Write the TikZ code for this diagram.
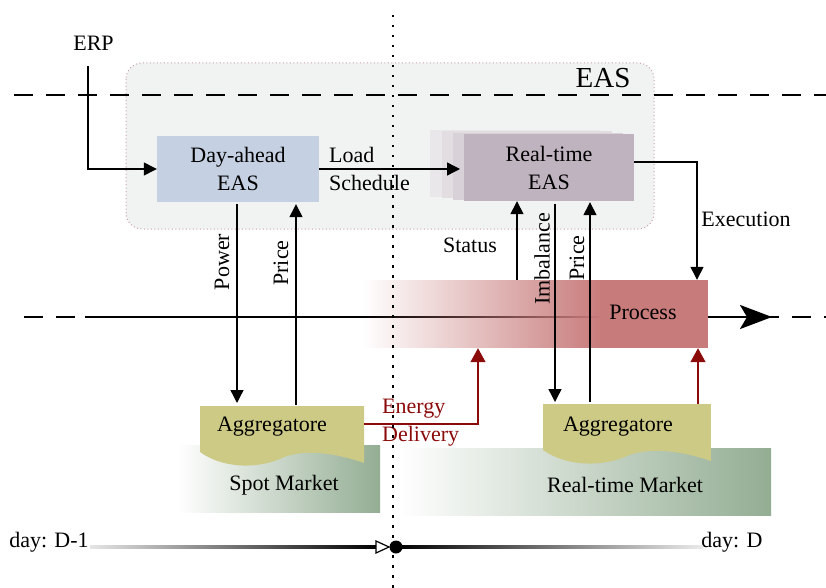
\documentclass[tikz,border=0pt]{standalone}
\usepackage{fontspec}
\setmainfont{Liberation Serif}
\usetikzlibrary{arrows.meta,fadings,calc}
\definecolor{easbg}{HTML}{F1F3F3}
\definecolor{easbd}{HTML}{C8A0AA}
\definecolor{dabox}{HTML}{C5D0E2}
\definecolor{rtbox}{HTML}{BFB3BF}
\definecolor{rtsh1}{HTML}{E9E7E9}
\definecolor{rtsh2}{HTML}{E1DDE1}
\definecolor{rtsh3}{HTML}{D8D1D8}
\definecolor{procred}{HTML}{C87B7B}
\definecolor{aggy}{HTML}{CCCA85}
\definecolor{mktg}{HTML}{93AD93}
\definecolor{dred}{HTML}{8B0A0A}
\newcommand{\aggpath}{(0,0) -- (164,0) -- (164,57) .. controls (130,45) and (100,44) .. (82,52) .. controls (61,62) and (25,64) .. (0,46) -- cycle}
\begin{document}
\begin{tikzpicture}[x=1pt,y=-1pt,
  font=\fontsize{22}{28}\selectfont,
  box/.style={inner sep=0pt, align=center},
  conn/.style={line width=1.4pt, -{Triangle[length=13pt,width=13pt]}},
  redconn/.style={draw=dred, line width=1.3pt, -{Triangle[length=14pt,width=15pt]}},
  dashline/.style={line width=1.5pt, dash pattern=on 19pt off 13pt},
  vdots/.style={line width=2.2pt, dash pattern=on 2.5pt off 7.5pt},
  lbl/.style={inner sep=1pt},
  redlbl/.style={inner sep=1pt, text=dred, anchor=west}]
\useasboundingbox (0,0) rectangle (826,588);

% EAS container
\filldraw[fill=easbg, draw=easbd, line width=1pt, dash pattern=on 1pt off 2.5pt,
  rounded corners=16pt] (126,63) rectangle (654,229);
\node[lbl, font=\fontsize{29}{32}\selectfont] (eas) at (603,78) {EAS};

% horizontal dashed lines
\draw[dashline] (14,95) -- (826,95);
\draw[dashline] (24,317) -- (826,317);
\coordinate (mainS) at (85,317);
\coordinate (mainE) at (772,317);
\draw[line width=2.5pt, -{Stealth[length=32pt,width=24pt,inset=7pt]}] (mainS) -- (mainE);

% Process box
\fill[procred, path fading=west] (363,280) rectangle (601,348);
\fill[procred] (600,280) rectangle (708,348);
\node[inner sep=0pt, minimum width=345pt, minimum height=68pt] (proc) at (535.5,314) {};
\node[lbl] (proct) at (643,312) {Process};

% Markets
\shade[left color=white, right color=mktg] (177,445) rectangle (380,512);
\shade[left color=white, right color=mktg] (398,448) rectangle (771,515);
\node[lbl] (spot) at (284,485) {Spot Market};
\node[lbl] (rtm) at (625,485) {Real-time Market};

% Aggregatore shapes
\fill[aggy, shift={(200,406)}] \aggpath;
\fill[aggy, shift={(543,404)}, xscale=1.024] \aggpath;
\node[inner sep=0pt, minimum width=164pt, minimum height=46pt, anchor=north west] (agL) at (200,406) {};
\node[inner sep=0pt, minimum width=168pt, minimum height=46pt, anchor=north west] (agR) at (543,404) {};
\node[lbl] (agLt) at (272,427) {Aggregatore};
\node[lbl] (agRt) at (618,427) {Aggregatore};

% Day-ahead EAS
\node[box, fill=dabox, minimum width=162pt, minimum height=66pt] (da) at (238,169) {Day-ahead\\EAS};

% Real-time EAS stack
\fill[rtsh1] (430,130) rectangle (600,197);
\fill[rtsh2] (442,131.3) rectangle (612,198.3);
\fill[rtsh3] (453,132.7) rectangle (623,199.7);
\node[box, fill=rtbox, minimum width=170pt, minimum height=67pt] (rt) at (549,167.5) {Real-time\\EAS};

% ERP
\node[lbl] (erp) at (93.5,43) {ERP};
\coordinate (erpS) at (88,66);
\draw[conn] (erpS) |- (da.west);

% Load schedule
\draw[conn] (da.east) -- (da.east -| 460,0);
\node[lbl, anchor=west, align=left] (ls) at (328,168.5) {Load\\Schedule};

% Day-ahead <-> aggregatore
\draw[conn] ([yshift=-2pt]da.south -| 237,0) -- ([yshift=3pt]agL.north -| 237,0);
\draw[conn] ([yshift=1pt]agL.north -| 296,0) -- ([yshift=-2pt]da.south -| 296,0);
\node[lbl, rotate=90] (pw) at (222,262) {Power};
\node[lbl, rotate=90] (pr1) at (281,263) {Price};

% Real-time <-> process / aggregatore
\draw[conn] (proc.north -| 517,0) -- (rt.south -| 517,0);
\node[lbl] (st) at (470,245) {Status};
\draw[conn] ([yshift=-3pt]rt.south -| 555,0) -- ([yshift=2pt]agR.north -| 555,0);
\draw[conn] ([yshift=2pt]agR.north -| 590,0) -- ([yshift=-1pt]rt.south -| 590,0);
\node[lbl, rotate=90] (imb) at (542,259) {Imbalance};
\node[lbl, rotate=90] (pr2) at (577,258) {Price};
\draw[conn] ([yshift=5.5pt]rt.east) -| (proc.north -| 697,0);
\node[lbl] (ex) at (746,219) {Execution};

% Energy delivery
\draw[redconn] (agL.east |- 0,424) -| (proc.south -| 478,0);
\draw[redconn] (agR.north -| 698,0) -- (proc.south -| 698,0);
\node[redlbl] (en) at (381,408.5) {Energy};
\node[redlbl] (dl) at (381,436.5) {Delivery};

% vertical dotted line
\draw[vdots] (393,15) -- (393,588);

% timeline
\node[lbl] (d1) at (49,542) {day: D-1};
\node[lbl] (d0) at (732,542) {day: D};
\shade[left color=black!10, right color=black] (90,545.6) rectangle (377,548.6);
\shade[left color=black, right color=black!8] (396,545.6) rectangle (703,548.6);
\draw[fill=white, line width=1.2pt] (376,541) -- (389,547) -- (376,553) -- cycle;
\fill (396,547) circle (6.5pt);
\end{tikzpicture}
\end{document}
